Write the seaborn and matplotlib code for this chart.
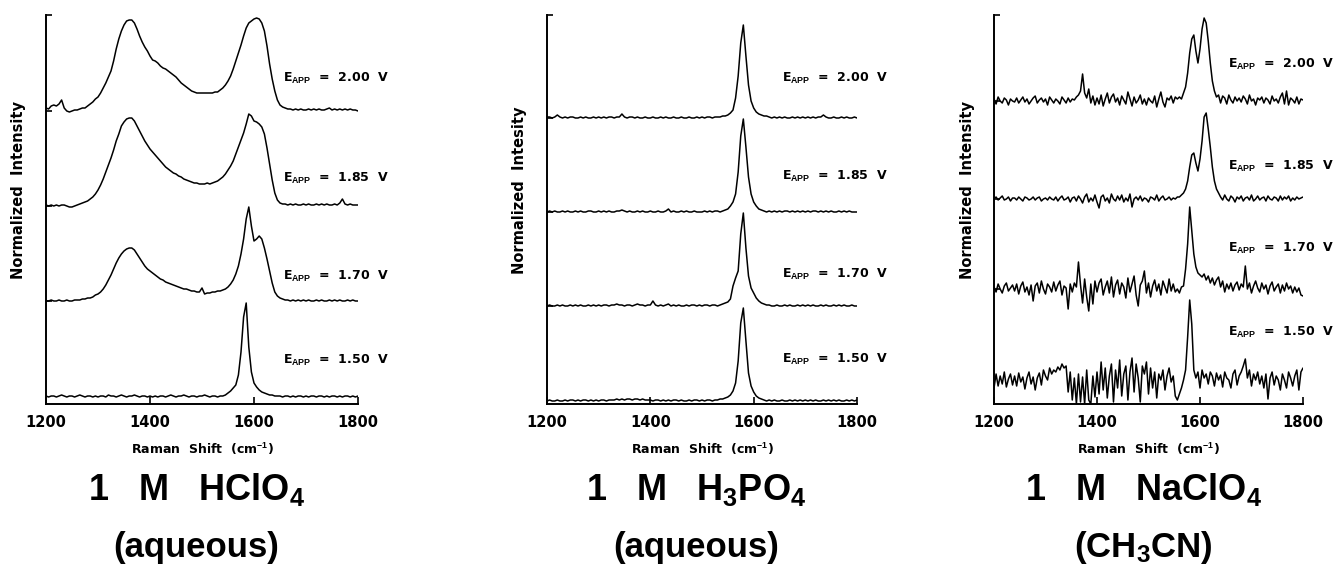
import numpy as np
import matplotlib
matplotlib.use('Agg')
import matplotlib.pyplot as plt
import seaborn as sns

# Raman shift grids (cm-1)
shift_5 = np.arange(1200, 1801, 5)
shift_4 = np.arange(1200, 1801, 4)

potentials = ['1.50', '1.70', '1.85', '2.00']

# --- 1 M HClO4 (aqueous), heights above each baseline, 5 cm-1 steps
hclo4_150 = [1, 0, 1, 1, 0, 1, 2, 1, 0, 1,
             1, 0, 1, 2, 1, 0, 1, 1, 0, 1,
             0, 1, 1, 0, 2, 1, 1, 0, 1, 2,
             1, 0, 1, 1, 2, 1, 0, 1, 1, 0,
             1, 0, 1, 0, 1, 1, 0, 1, 2, 1,
             0, 1, 1, 2, 1, 0, 1, 1, 0, 1,
             1, 2, 1, 0, 1, 1, 0, 1, 1, 2,
             4, 6, 9, 12, 22, 45, 80, 94, 50, 25,
             14, 10, 7, 5, 4, 3, 2, 2, 1, 1,
             1, 0, 1, 1, 0, 1, 0, 1, 1, 0,
             1, 0, 1, 1, 0, 1, 1, 0, 1, 0,
             1, 1, 0, 1, 0, 1, 1, 0, 1, 0,
             1]
hclo4_170 = [0, 0, 1, 0, 0, 1, 0, 0, 1, 0,
             0, 1, 1, 1, 2, 2, 3, 3, 4, 6,
             7, 9, 12, 16, 21, 26, 32, 38, 43, 47,
             50, 52, 53, 53, 51, 47, 43, 39, 35, 32,
             30, 28, 26, 24, 22, 21, 19, 18, 17, 16,
             15, 14, 13, 12, 12, 11, 10, 10, 9, 9,
             13, 7, 8, 8, 9, 9, 10, 10, 11, 12,
             14, 17, 21, 27, 35, 47, 62, 82, 94, 75,
             60, 62, 65, 62, 53, 42, 30, 18, 9, 5,
             3, 2, 1, 1, 0, 1, 0, 1, 0, 1,
             0, 1, 0, 0, 1, 0, 1, 0, 0, 1,
             0, 1, 0, 1, 0, 0, 1, 0, 1, 0,
             0]
hclo4_185 = [1, 0, 1, 0, 1, 0, 1, 1, 0, -1,
             -1, 0, 1, 2, 3, 4, 5, 7, 9, 12,
             16, 21, 27, 34, 41, 48, 56, 65, 72, 80,
             84, 87, 88, 88, 85, 80, 75, 70, 65, 61,
             57, 54, 51, 48, 45, 42, 39, 37, 35, 33,
             32, 30, 29, 27, 26, 25, 24, 23, 23, 22,
             22, 22, 23, 22, 23, 24, 25, 27, 29, 32,
             36, 40, 45, 52, 59, 66, 73, 82, 92, 90,
             85, 84, 82, 79, 72, 58, 42, 26, 13, 6,
             3, 2, 2, 1, 2, 1, 2, 1, 1, 2,
             1, 2, 1, 1, 2, 1, 2, 1, 2, 1,
             1, 2, 1, 3, 7, 2, 1, 2, 1, 1,
             1]
hclo4_200 = [3, 2, 5, 6, 5, 7, 11, 3, 0, -1,
             0, 1, 1, 2, 3, 3, 5, 7, 9, 12,
             14, 18, 23, 28, 34, 40, 50, 62, 72, 80,
             86, 90, 91, 91, 88, 82, 75, 69, 64, 60,
             55, 51, 50, 48, 45, 43, 42, 40, 38, 36,
             34, 31, 28, 26, 24, 22, 20, 19, 18, 18,
             18, 18, 18, 18, 18, 19, 19, 21, 23, 26,
             30, 35, 42, 50, 58, 66, 75, 83, 88, 90,
             92, 93, 92, 88, 80, 65, 47, 32, 20, 11,
             6, 4, 3, 2, 2, 1, 2, 1, 2, 1,
             1, 2, 1, 2, 1, 2, 1, 1, 2, 3,
             1, 2, 1, 2, 1, 2, 1, 2, 1, 1,
             0]

# --- 1 M H3PO4 (aqueous)
h3po4_150 = [0, 1, 0, 0, 1, 0, 0, 1, 0, 1,
             1, 0, 1, 0, 1, 1, 0, 1, 0, 1,
             0, 1, 1, 0, 1, 1, 1, 2, 1, 2,
             1, 2, 2, 1, 2, 2, 1, 2, 1, 1,
             1, 0, 1, 1, 0, 1, 0, 1, 0, 1,
             1, 0, 1, 0, 0, 1, 0, 1, 1, 0,
             1, 0, 1, 1, 0, 1, 1, 2, 2, 3,
             4, 6, 10, 18, 40, 78, 93, 60, 28, 15,
             9, 5, 3, 2, 1, 0, 1, 0, 1, 0,
             0, 1, 0, 0, 1, 0, 1, 0, 1, 0,
             1, 0, 1, 0, 1, 0, 0, 1, 0, 1,
             0, 1, 0, 1, 0, 0, 1, 0, 1, 0,
             1]
h3po4_170 = [0, 1, 0, 0, 1, 0, 1, 0, 0, 1,
             0, 1, 0, 1, 0, 0, 1, 0, 1, 0,
             1, 0, 1, 1, 0, 1, 1, 2, 1, 1,
             0, 1, 1, 0, 1, 2, 1, 1, 0, 1,
             1, 5, 1, 0, 1, 0, 1, 2, 0, 1,
             0, 1, 0, 0, 1, 0, 1, 1, 0, 1,
             0, 1, 1, 0, 1, 1, 0, 1, 2, 3,
             4, 7, 20, 28, 35, 72, 93, 58, 30, 18,
             13, 8, 5, 3, 2, 1, 1, 0, 0, 1,
             0, 0, 1, 0, 1, 0, 0, 1, 0, 1,
             0, 1, 0, 1, 0, 0, 1, 0, 1, 0,
             0, 1, 0, 1, 0, 1, 0, 0, 1, 0,
             0]
h3po4_185 = [0, 1, 0, 1, 0, 0, 1, 0, 1, 0,
             0, 1, 0, 1, 0, 0, 1, 1, 0, 0,
             1, 0, 1, 0, 1, 0, 0, 1, 1, 2,
             1, 0, 1, 0, 0, 1, 0, 1, 0, 0,
             1, 0, 0, 1, 0, 0, 1, 3, 0, 1,
             0, 0, 1, 0, 1, 0, 0, 1, 0, 0,
             0, 1, 0, 1, 0, 1, 1, 0, 1, 2,
             3, 6, 10, 18, 40, 76, 93, 65, 35, 18,
             10, 6, 3, 2, 1, 0, 1, 0, 1, 0,
             1, 0, 1, 1, 0, 1, 0, 1, 0, 1,
             0, 1, 0, 1, 1, 0, 1, 0, 1, 0,
             1, 0, 0, 1, 0, 1, 0, 1, 0, 0,
             0]
h3po4_200 = [1, 1, 0, 1, 3, 1, 0, 1, 0, 1,
             1, 0, 0, 1, 0, 1, 0, 0, 1, 0,
             1, 0, 1, 0, 1, 1, 0, 1, 1, 4,
             1, 0, 1, 1, 0, 1, 0, 0, 1, 0,
             0, 1, 0, 0, 1, 0, 1, 0, 0, 1,
             0, 0, 1, 0, 0, 1, 0, 0, 1, 0,
             1, 0, 1, 1, 0, 1, 1, 1, 2, 2,
             3, 5, 8, 20, 42, 75, 93, 62, 33, 17,
             10, 6, 4, 3, 2, 2, 1, 0, 1, 0,
             1, 0, 1, 0, 0, 1, 0, 1, 0, 1,
             0, 1, 0, 1, 0, 1, 1, 3, 1, 0,
             0, 1, 0, 0, 1, 0, 1, 0, 0, 1,
             0]

# --- 1 M NaClO4 (CH3CN), 4 cm-1 steps
naclo4_150 = [-6, 8, -4, 6, -2, 10, -5, 3, 8, -3,
              6, -4, 9, 0, 5, -7, 4, 10, -2, 5,
              -8, 4, 9, -3, 12, 6, 2, 14, 8, 12,
              10, 15, 12, 18, 14, 16, -10, 10, -18, 4,
              -22, 8, -20, 5, -22, 12, -18, -22, 6, -15,
              10, -12, 20, -8, 14, -16, 6, 18, -20, 12,
              -6, 22, -14, 8, 16, -18, 10, 24, -10, 18,
              4, -20, 16, 8, 20, -12, 14, -6, 10, -16,
              8, 2, 12, -8, 6, 14, 0, 6, -14, -18,
              -12, -6, 2, 12, 45, 82, 58, 12, 4, 10,
              -6, 12, 4, 8, -2, 10, 6, -4, 9, 2,
              7, -5, 10, 4, 2, -6, 8, 12, -3, 6,
              10, 16, 23, 4, 12, -4, 8, 2, 10, -2,
              6, -6, 8, -17, 4, 10, -3, 6, 2, -8,
              8, 2, -6, 10, 4, -4, 6, 12, -8, 10,
              14]
naclo4_170 = [2, -3, 5, 0, -4, 3, 6, -2, 1, 4,
              -2, 5, -5, 3, 7, -3, 2, -6, 4, -12,
              3, 6, -4, 8, 0, -5, 5, 2, -3, 7,
              -2, 4, 8, -6, 3, 1, -20, 5, -3, 6,
              2, 27, 4, -14, 10, -8, -22, 5, -15, 8,
              -3, 6, 10, -6, 2, 8, -4, 12, -8, 4,
              9, -5, 6, 2, -9, 11, -3, 5, 13, -6,
              -17, 4, 8, 18, -4, 6, -8, 3, 9, -2,
              5, -6, 8, 2, -4, 10, -2, 5, -3, 0,
              -4, 2, 3, 20, 45, 82, 58, 35, 22, 16,
              14, 12, 15, 9, 13, 6, 11, 4, 9, 12,
              2, 8, -3, 5, 0, 6, -2, 4, 7, -1,
              5, 2, 23, 0, 6, -4, 3, 8, 1, -3,
              6, 0, 4, -5, 3, 7, -2, 2, 5, -4,
              4, -2, 6, 0, 3, -4, 2, -3, 1, -6,
              -7]
naclo4_185 = [0, 2, -1, 1, 3, -1, 0, 2, -2, 1,
              1, -1, 2, 0, -2, 2, 1, -1, 0, 2,
              -1, 1, 2, -2, 0, 1, -1, 2, 0, -1,
              2, -2, 1, 3, -1, 0, 2, -3, 1, 2,
              -2, 3, 0, -4, 2, 5, -3, 1, -2, 4,
              -3, -9, 2, 4, -2, 1, -4, 5, 0, -2,
              3, -1, 4, -3, 1, -2, 5, -8, 0, 2,
              -1, 3, -2, 1, 0, -3, 2, 1, -1, 4,
              -2, 1, 3, -1, 0, 2, -1, 1, 0, 2,
              2, 4, 6, 10, 18, 32, 44, 46, 36, 28,
              40, 58, 82, 86, 70, 52, 32, 18, 10, 6,
              2, -1, 4, 0, -2, 3, 1, -3, 2, 0,
              3, -2, 1, 2, -1, 4, -2, 0, 3, -1,
              1, 2, -2, 3, 0, -1, 2, 1, -2, 3,
              -1, 2, 0, 3, -2, 1, -1, 2, 0, 1,
              2]
naclo4_200 = [2, -3, 4, 0, -2, 3, 1, -4, 2, 0,
              -1, 3, -2, 1, 4, -1, 2, -3, 0, 3,
              5, -2, 1, 3, -1, 2, -4, 4, 1, -2,
              2, 0, -3, 4, 1, -2, 3, -1, 2, 1,
              4, 6, 10, 27, 8, 3, 12, -2, 5, -4,
              3, -3, 6, -5, 2, 8, -2, 4, 7, -1,
              3, -4, 5, 1, -3, 9, 2, -5, 4, -2,
              1, 6, -3, 2, -4, 3, 0, -2, 5, -6,
              2, 9, -1, -6, 3, 1, 5, -2, 4, 2,
              4, 2, 8, 14, 28, 48, 62, 66, 50, 38,
              52, 72, 83, 78, 60, 38, 20, 10, 4, 6,
              -2, 5, 3, -3, 6, 1, -2, 4, 0, 3,
              -1, 5, 2, -3, 6, 0, 2, -4, 3, 1,
              4, -2, 3, 1, -3, 5, 0, 2, -2, 4,
              8, -3, 10, -4, 3, 1, -2, 4, -3, 2,
              1]

# baselines of the stacked traces and label heights (axis units)
hclo4_offsets = [7, 103, 198, 293]
h3po4_offsets = [3, 98, 192, 286]
naclo4_offsets = [22, 115, 205, 303]
hclo4_label_y = [44, 128, 226, 326]
h3po4_label_y = [45, 130, 228, 326]
naclo4_label_y = [72, 156, 238, 340]

panels = [
    dict(x=shift_5, curves=[hclo4_150, hclo4_170, hclo4_185, hclo4_200],
         offsets=hclo4_offsets, label_y=hclo4_label_y,
         ylabel='Normalized  Intensity', title=['1  M  HClO$_4$', '(aqueous)']),
    dict(x=shift_5, curves=[h3po4_150, h3po4_170, h3po4_185, h3po4_200],
         offsets=h3po4_offsets, label_y=h3po4_label_y,
         ylabel='Normalized  Intesity', title=['1  M  H$_3$PO$_4$', '(aqueous)']),
    dict(x=shift_4, curves=[naclo4_150, naclo4_170, naclo4_185, naclo4_200],
         offsets=naclo4_offsets, label_y=naclo4_label_y,
         ylabel='Normalized  Intensity', title=['1  M  NaClO$_4$', '(CH$_3$CN)']),
]

sns.set_style('ticks')
plt.rcParams['font.family'] = ['DejaVu Sans']
plt.rcParams['font.weight'] = 'bold'
plt.rcParams['text.color'] = 'black'
plt.rcParams['axes.labelcolor'] = 'black'
plt.rcParams['xtick.color'] = 'black'
plt.rcParams['ytick.color'] = 'black'
plt.rcParams['mathtext.fontset'] = 'custom'
plt.rcParams['mathtext.rm'] = 'Liberation Sans:bold'
plt.rcParams['mathtext.it'] = 'Liberation Sans:bold'
plt.rcParams['mathtext.bf'] = 'Liberation Sans:bold'
plt.rcParams['mathtext.default'] = 'rm'

W, H = 1339, 578
fig = plt.figure(figsize=(W / 100, H / 100), dpi=100)
panel_px = [(46, 358), (547, 857), (994, 1303)]
top_px, bottom_px = 15, 404

for (left, right), p in zip(panel_px, panels):
    ax = fig.add_axes([left / W, 1 - bottom_px / H, (right - left) / W,
                       (bottom_px - top_px) / H])
    for vals, off in zip(p['curves'], p['offsets']):
        sns.lineplot(x=p['x'], y=np.array(vals) + off, ax=ax, color='black',
                     linewidth=1.1)
    for pot, ly in zip(potentials, p['label_y']):
        ax.text(1655, ly, 'E$_{APP}$  =  %s  V' % pot, color='black',
                fontsize=9, fontweight='bold', va='center', ha='left')
    ax.set_xlim(1200, 1800)
    ax.set_ylim(0, 389)
    sns.despine(ax=ax)
    for s in ['left', 'bottom']:
        ax.spines[s].set_linewidth(1.4)
        ax.spines[s].set_color('black')
    ax.set_xticks([1200, 1400, 1600, 1800])
    ax.set_xticklabels(['1200', '1400', '1600', '1800'], fontsize=10.5,
                       fontweight='bold')
    ax.set_yticks(p['offsets'][1:] + [389])
    ax.set_yticklabels([])
    ax.tick_params(axis='x', direction='in', length=5, width=1.2, pad=8)
    ax.tick_params(axis='y', direction='in', length=4, width=1.2)
    ax.set_xlabel('Raman  Shift  (cm$^{-1}$)', fontsize=9, fontweight='bold',
                  labelpad=8)
    ax.set_ylabel(p['ylabel'], fontsize=10.5, fontweight='bold')
    ax.yaxis.set_label_coords(-0.063, 0.55)
    cx = (left + right) / 2 / W - 0.004
    fig.text(cx, 1 - 490 / H, p['title'][0].replace('  ', '   '),
             ha='center', va='center', fontsize=26,
             fontfamily='Liberation Sans', fontweight='bold', color='black')
    fig.text(cx, 1 - 548 / H, p['title'][1], ha='center', va='center',
             fontsize=25, fontfamily='Liberation Sans', fontweight='bold',
             color='black')

fig.savefig('out.png', dpi=100, facecolor='white')
